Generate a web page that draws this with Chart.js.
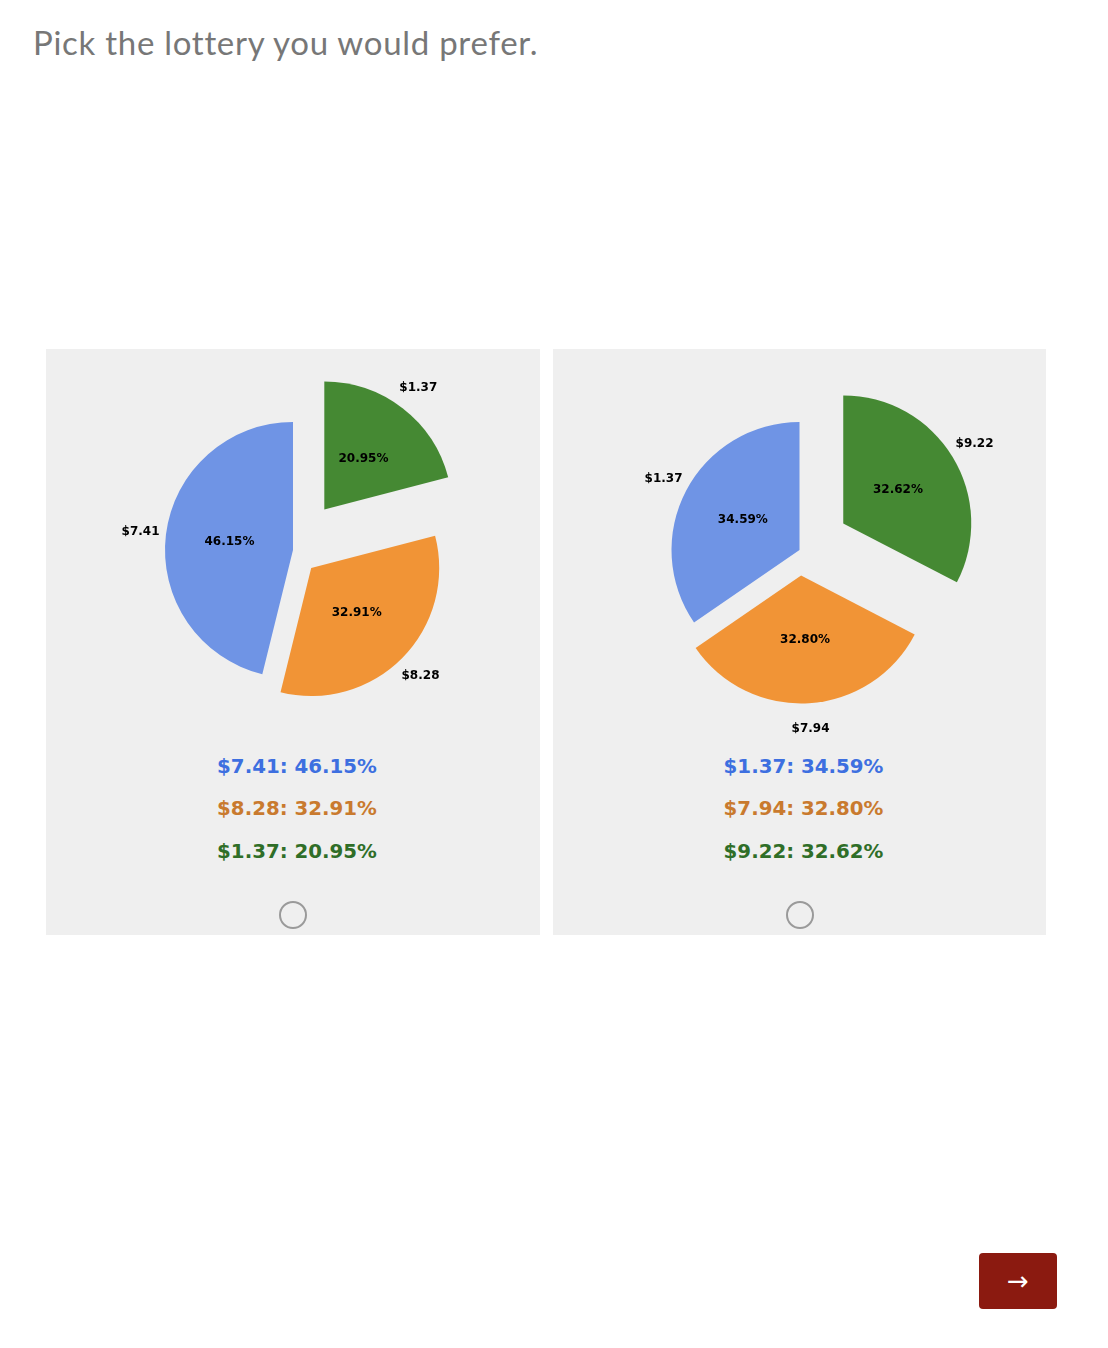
<!DOCTYPE html>
<html>
<head>
<meta charset="utf-8">
<script src="https://cdn.jsdelivr.net/npm/chart.js@4"></script>
<style>
  html, body { margin: 0; padding: 0; background: #ffffff; }
  body { width: 1108px; height: 1348px; position: relative; overflow: hidden; }
  #title { position: absolute; left: 33px; top: 20px; font-family: Lato, "Open Sans", sans-serif; font-size: 33px; letter-spacing: 0.72px; color: #777777; font-weight: 400; white-space: nowrap; line-height: 44px; }
  .panel { position: absolute; top: 349px; height: 586px; background: #efefef; }
  .panel canvas { position: absolute; left: 0; top: 0; }
  .legline { position: absolute; left: 4px; width: 100%; text-align: center; font-family: "DejaVu Sans", sans-serif; font-weight: bold; font-size: 19.8px; line-height: 24px; }
  .radio { position: absolute; width: 24px; height: 24px; border: 2px solid #9a9a9a; border-radius: 50%; box-sizing: content-box; }
  #next { position: absolute; left: 979px; top: 1253px; width: 78px; height: 56px; background: #8b1a10; border-radius: 4px; color: #fff; font-family: "DejaVu Sans", sans-serif; font-size: 26px; line-height: 56px; text-align: center; }
</style>
</head>
<body>
<div id="title">Pick the lottery you would prefer.</div>
<div class="panel" id="panelA" style="left:46px;width:494px;"><canvas id="chartA" width="494" height="402"></canvas></div>
<div class="panel" id="panelB" style="left:553px;width:493px;"><canvas id="chartB" width="493" height="402"></canvas></div>
<div id="next">→</div>
<script>
// ---- data (listed in the original order: blue, orange, green) ----
const lotteryAPrizes = ["$7.41", "$8.28", "$1.37"];
const lotteryAProbs  = [46.15, 32.91, 20.95];
const lotteryBPrizes = ["$1.37", "$7.94", "$9.22"];
const lotteryBProbs  = [34.59, 32.80, 32.62];

// ---- styles ----
const sliceColors  = ["#6f94e5", "#f19436", "#458933"];
const legendColors = ["#3d6fe0", "#c97a2e", "#2f6e28"];
const explodeFrac  = [0, 0.2, 0.4];

const explodePlugin = {
  id: 'explodeLabels',
  beforeDatasetDraw(chart, args) {
    const ctx = chart.ctx;
    const ex = chart.options.plugins.explodeLabels.fractions;
    args.meta.data.forEach((arc, i) => {
      const p = arc.getProps(['startAngle', 'endAngle', 'outerRadius'], true);
      const mid = (p.startAngle + p.endAngle) / 2;
      const d = ex[i] * p.outerRadius;
      ctx.save();
      ctx.translate(Math.cos(mid) * d, Math.sin(mid) * d);
      arc.draw(ctx, chart.chartArea);
      ctx.restore();
    });
    return false;
  },
  afterDatasetsDraw(chart) {
    const ctx = chart.ctx;
    const o = chart.options.plugins.explodeLabels;
    const meta = chart.getDatasetMeta(0);
    const values = chart.data.datasets[0].data;
    ctx.save();
    ctx.fillStyle = '#000';
    ctx.font = 'bold 12px "DejaVu Sans"';
    ctx.textAlign = 'center';
    ctx.textBaseline = 'middle';
    meta.data.forEach((arc, i) => {
      const p = arc.getProps(['x', 'y', 'startAngle', 'endAngle', 'outerRadius'], true);
      const mid = (p.startAngle + p.endAngle) / 2;
      const r = p.outerRadius;
      const dl = (o.fractions[i] + 1.2) * r;
      const dp = (o.fractions[i] + 0.5) * r;
      ctx.fillText(chart.data.labels[i], p.x + Math.cos(mid) * dl, p.y + Math.sin(mid) * dl);
      ctx.fillText(values[i].toFixed(2) + '%', p.x + Math.cos(mid) * dp, p.y + Math.sin(mid) * dp);
    });
    ctx.restore();
  }
};

function rev(a) { return a.slice().reverse(); }

function makePie(canvasId, panelId, prizes, probs) {
  // Chart.js runs clockwise from the top; the reference runs counter-clockwise,
  // so the slices are fed in reverse order.
  new Chart(document.getElementById(canvasId), {
    type: 'pie',
    data: {
      labels: rev(prizes),
      datasets: [{
        data: rev(probs),
        backgroundColor: rev(sliceColors),
        borderWidth: 0
      }]
    },
    options: {
      responsive: false,
      animation: false,
      devicePixelRatio: 1,
      radius: 128,
      layout: { padding: 0 },
      events: [],
      plugins: {
        legend: { display: false },
        tooltip: { enabled: false },
        explodeLabels: { fractions: rev(explodeFrac) }
      }
    },
    plugins: [explodePlugin]
  });
  const panel = document.getElementById(panelId);
  const tops = [406, 448, 491];
  prizes.forEach((p, i) => {
    const d = document.createElement('div');
    d.className = 'legline';
    d.style.top = tops[i] + 'px';
    d.style.color = legendColors[i];
    d.textContent = p + ': ' + probs[i].toFixed(2) + '%';
    panel.appendChild(d);
  });
  const r = document.createElement('div');
  r.className = 'radio';
  r.style.left = (panel.offsetWidth / 2 - 14) + 'px';
  r.style.top = (566 - 14) + 'px';
  panel.appendChild(r);
}

makePie('chartA', 'panelA', lotteryAPrizes, lotteryAProbs);
makePie('chartB', 'panelB', lotteryBPrizes, lotteryBProbs);
</script>
</body>
</html>
